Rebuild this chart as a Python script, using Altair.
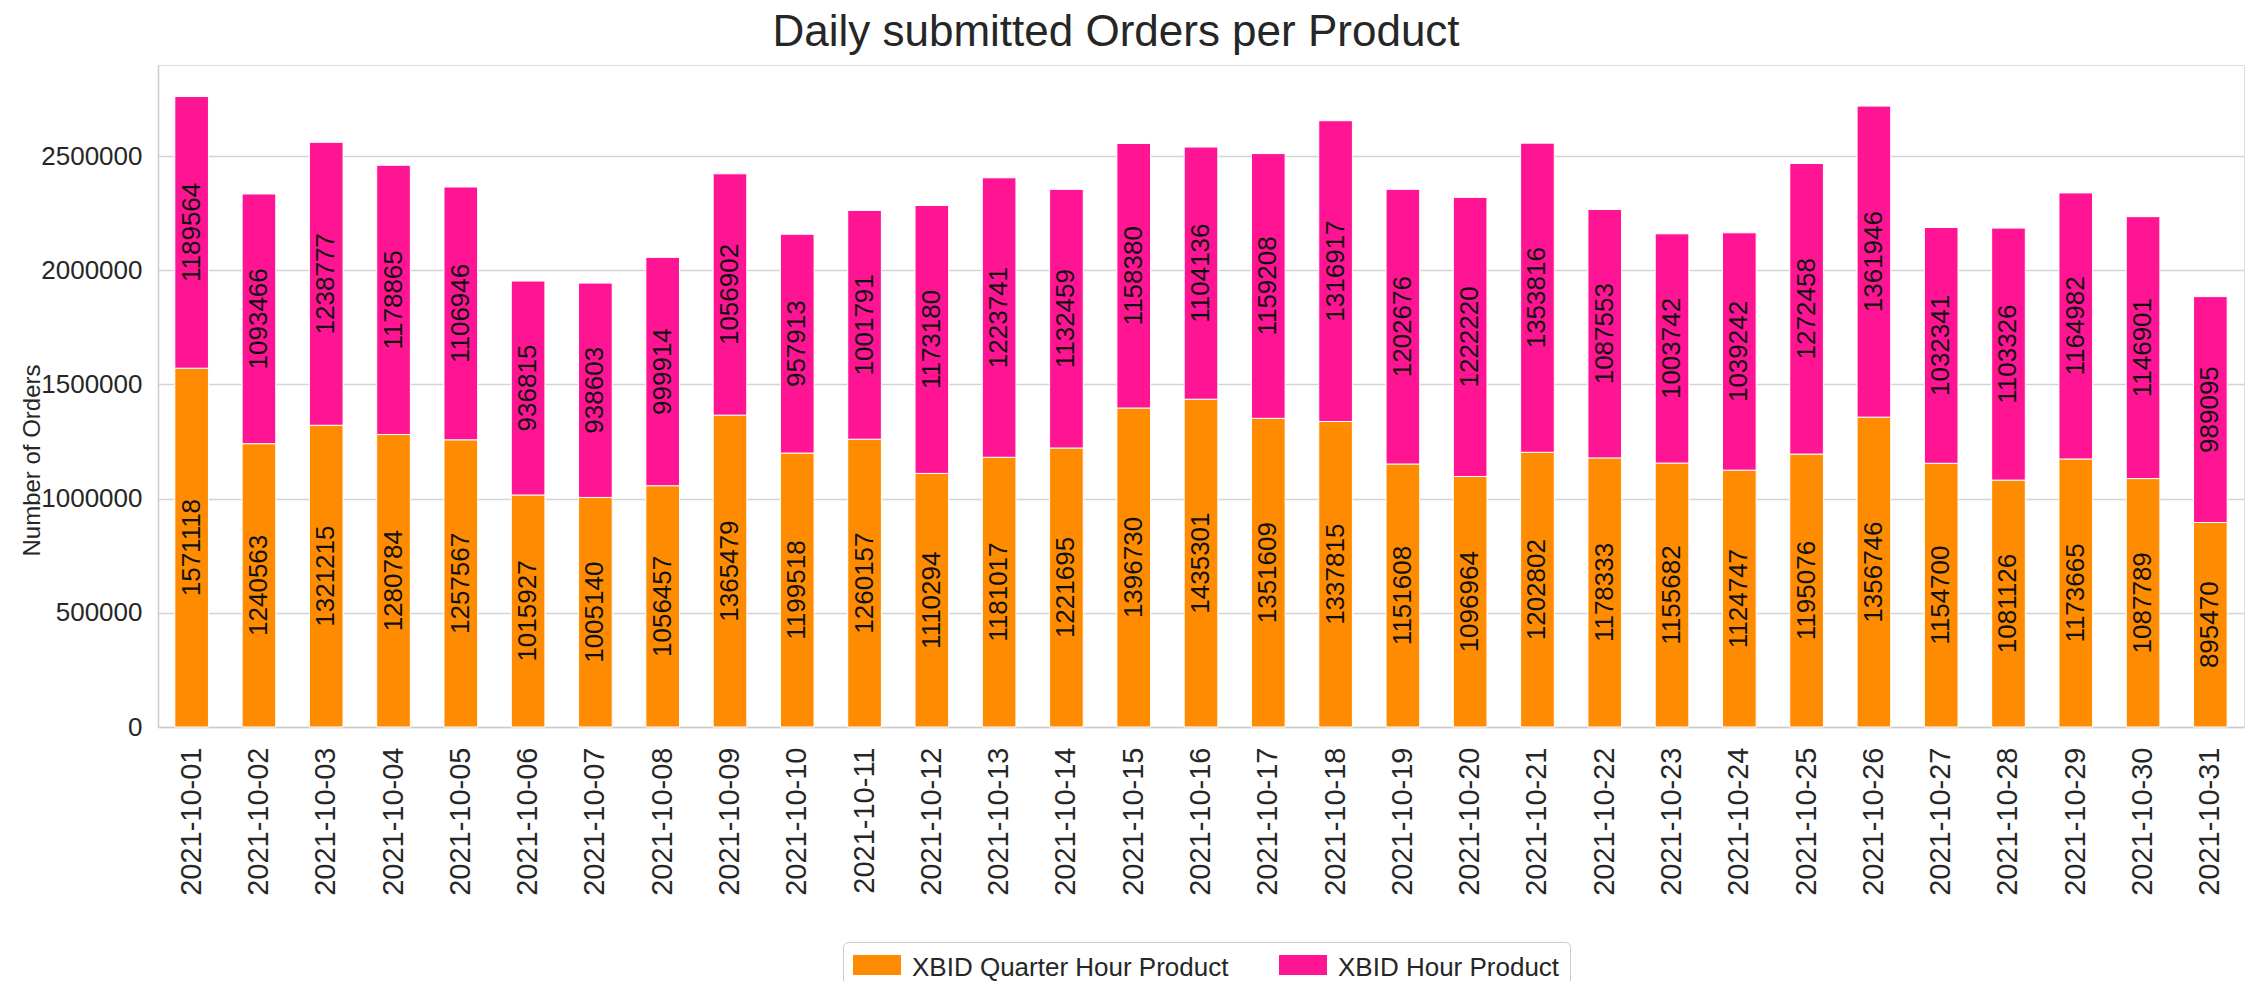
import altair as alt
import pandas as pd

dates = [
    "2021-10-01", "2021-10-02", "2021-10-03", "2021-10-04", "2021-10-05",
    "2021-10-06", "2021-10-07", "2021-10-08", "2021-10-09", "2021-10-10",
    "2021-10-11", "2021-10-12", "2021-10-13", "2021-10-14", "2021-10-15",
    "2021-10-16", "2021-10-17", "2021-10-18", "2021-10-19", "2021-10-20",
    "2021-10-21", "2021-10-22", "2021-10-23", "2021-10-24", "2021-10-25",
    "2021-10-26", "2021-10-27", "2021-10-28", "2021-10-29", "2021-10-30",
    "2021-10-31",
]

quarter_hour = [
    1571118, 1240563, 1321215, 1280784, 1257567, 1015927, 1005140, 1056457,
    1365479, 1199518, 1260157, 1110294, 1181017, 1221695, 1396730, 1435301,
    1351609, 1337815, 1151608, 1096964, 1202802, 1178333, 1155682, 1124747,
    1195076, 1356746, 1154700, 1081126, 1173665, 1087789, 895470,
]

hour = [
    1189564, 1093466, 1238777, 1178865, 1106946, 936815, 938603, 999914,
    1056902, 957913, 1001791, 1173180, 1223741, 1132459, 1158380, 1104136,
    1159208, 1316917, 1202676, 1222220, 1353816, 1087553, 1003742, 1039242,
    1272458, 1361946, 1032341, 1103326, 1164982, 1146901, 989095,
]

products = ["XBID Quarter Hour Product", "XBID Hour Product"]
colors = ["#ff8c00", "#ff1493"]
y_ticks = [0, 500000, 1000000, 1500000, 2000000, 2500000]
y_max = 2898716

rows = []
for i, d in enumerate(dates):
    rows.append({"date": d, "product": products[0], "value": quarter_hour[i], "order": 0})
    rows.append({"date": d, "product": products[1], "value": hour[i], "order": 1})
df = pd.DataFrame(rows)

FONT = "Liberation Sans, Arial, sans-serif"
TXT = "#262626"

y_scale = alt.Scale(domain=[0, y_max], nice=False, zero=True)
x_scale = alt.Scale(paddingInner=0.5, paddingOuter=0.25)

x_enc = alt.X(
    "date:N", sort=dates, title=None, scale=x_scale,
    axis=alt.Axis(
        labelAngle=270, labelFontSize=29, labelFont=FONT, labelColor=TXT,
        ticks=False, labelPadding=20, domainColor="#cccccc", domainWidth=1.5,
        grid=False, labelAlign="right", labelBaseline="middle",
    ),
)

bars = alt.Chart(df).mark_bar(stroke="white", strokeWidth=1).encode(
    x=x_enc,
    y=alt.Y(
        "value:Q", stack="zero", scale=y_scale,
        axis=alt.Axis(
            title="Number of Orders", values=y_ticks, format="d",
            labelFontSize=26, labelFont=FONT, labelColor=TXT, ticks=False,
            labelPadding=16, domainColor="#cccccc", domainWidth=1.5,
            gridColor="#d4d4d4", gridWidth=1.5,
            titleFontSize=24, titleFont=FONT, titleFontWeight="normal",
            titleColor=TXT, titleX=-126, titleY=395, titleAngle=270,
            titleAlign="center", titleBaseline="middle",
        ),
    ),
    color=alt.Color(
        "product:N",
        scale=alt.Scale(domain=products, range=colors),
        legend=alt.Legend(
            title=None, orient="none", legendX=685, legendY=877,
            direction="horizontal", labelFontSize=26, labelFont=FONT,
            labelColor=TXT, labelLimit=0, labelBaseline="alphabetic",
            symbolType="M-1,-0.88H1V-0.04H-1Z", symbolSize=2304,
            symbolStrokeWidth=0, symbolOpacity=1, labelOffset=11,
            columnPadding=50, padding=10, strokeColor="#cccccc",
            cornerRadius=5, fillColor="white",
        ),
    ),
    order=alt.Order("order:Q"),
)

labels = alt.Chart(df).transform_stack(
    stack="value", groupby=["date"], as_=["y0", "y1"],
    sort=[alt.SortField("order", order="ascending")],
).transform_calculate(
    mid="(datum.y0 + datum.y1) / 2"
).mark_text(
    angle=270, fontSize=26, font=FONT, color="#111111",
    align="center", baseline="middle",
).encode(
    x=alt.X("date:N", sort=dates, scale=x_scale),
    y=alt.Y("mid:Q", scale=y_scale),
    text=alt.Text("value:Q", format="d"),
)

chart = alt.layer(bars, labels).properties(
    width=2086,
    height=662,
    title=alt.TitleParams(
        "Daily submitted Orders per Product", fontSize=44, font=FONT,
        fontWeight="normal", color=TXT, anchor="middle", frame="group",
        offset=10, dx=-85,
    ),
    autosize=alt.AutoSizeParams(type="none"),
    padding={"left": 150, "top": 57, "right": 13, "bottom": 254},
).configure_view(stroke=None).configure(background="white")

chart.save("out.html", embed_options={"renderer": "svg", "actions": False})
